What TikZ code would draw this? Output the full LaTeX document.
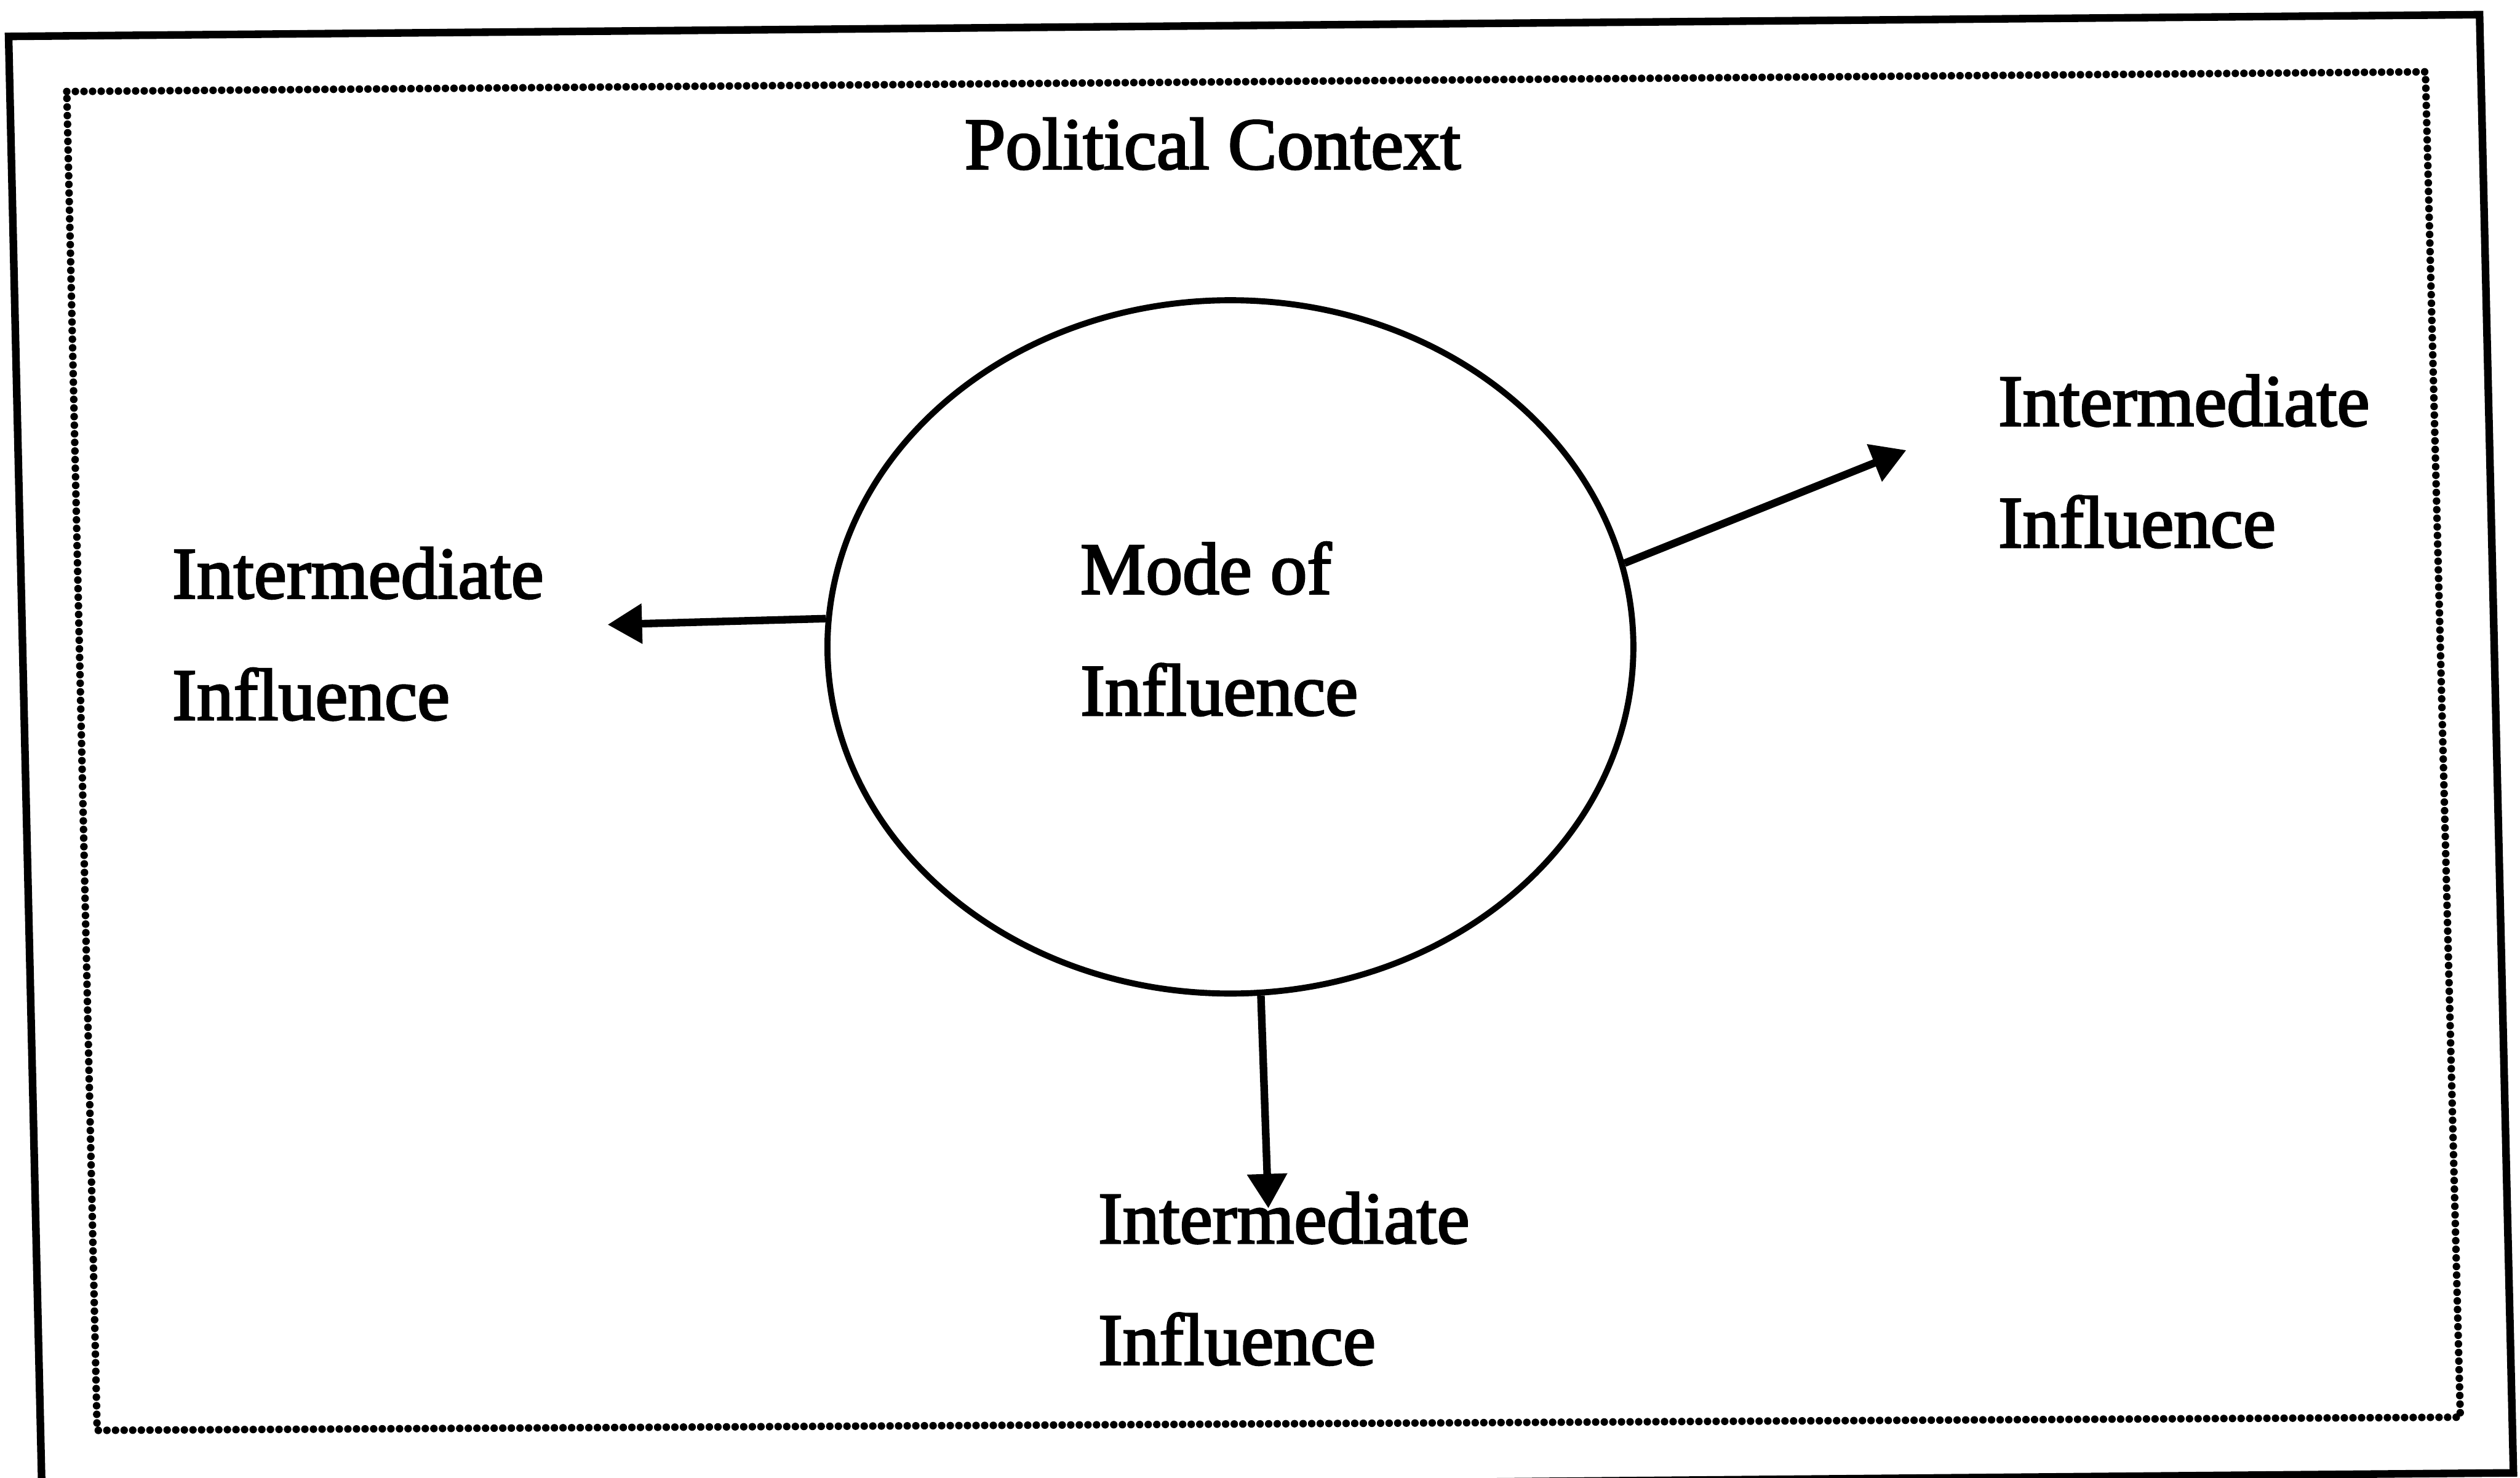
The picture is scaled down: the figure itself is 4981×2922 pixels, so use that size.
\documentclass[tikz,border=0pt]{standalone}
\usepackage{fontspec}
\usetikzlibrary{shapes.geometric,arrows.meta}
\newfontfamily\labelfont{Liberation Serif}[FakeBold=2.5]

\begin{document}
\begin{tikzpicture}[x=0.01cm,y=-0.01cm,
    frameline/.style={line width=0.15cm, line join=miter},
    dotline/.style={line width=0.15cm, line cap=round, dash pattern=on 0pt off 0.17cm},
    hub/.style={ellipse, draw, line width=0.12cm, inner sep=0pt,
                minimum width=15.92cm, minimum height=13.70cm},
    label/.style={anchor=base west, inner sep=0pt, align=left,
                  font=\labelfont\fontsize{41.3}{68.3}\selectfont},
    influence/.style={line width=0.15cm, -{Triangle[length=0.68cm,width=0.76cm]}}]

  \useasboundingbox (0,0) rectangle (4981,2922);
  \fill[white] (0,0) rectangle (4981,2922);

  % outer border, slightly skewed as on the printed page
  \draw[frameline] (17,72) -- (4901,29) -- (4968,2912) -- (83,2955) -- cycle;

  % dotted border of the political context
  \draw[dotline] (132,181) -- (4794,142) -- (4863,2802) -- (192,2828) -- cycle;

  \node[label] (context) at (1906,334) {Political Context};

  % central mode of influence (two-line labels sit on their last baseline)
  \node[hub] (mode) at (2432,1279) {};
  \node[label] (modetext) at (2135,1414) {Mode of\\Influence};

  % intermediate influences
  \node[label] (left)   at (340,1423)  {Intermediate\\Influence};
  \node[label] (right)  at (3949,1082) {Intermediate\\Influence};
  \node[label] (bottom) at (2170,2698) {Intermediate\\Influence};

  \coordinate (lefttip)   at (1201,1235);
  \coordinate (righttip)  at (3768,890);
  \coordinate (bottomtip) at (2507,2389);

  \draw[influence] (mode.176.5) -- (lefttip);
  \draw[influence] (mode.12.5)  -- (righttip);
  \draw[influence] (mode.275)   -- (bottomtip);
\end{tikzpicture}
\end{document}
